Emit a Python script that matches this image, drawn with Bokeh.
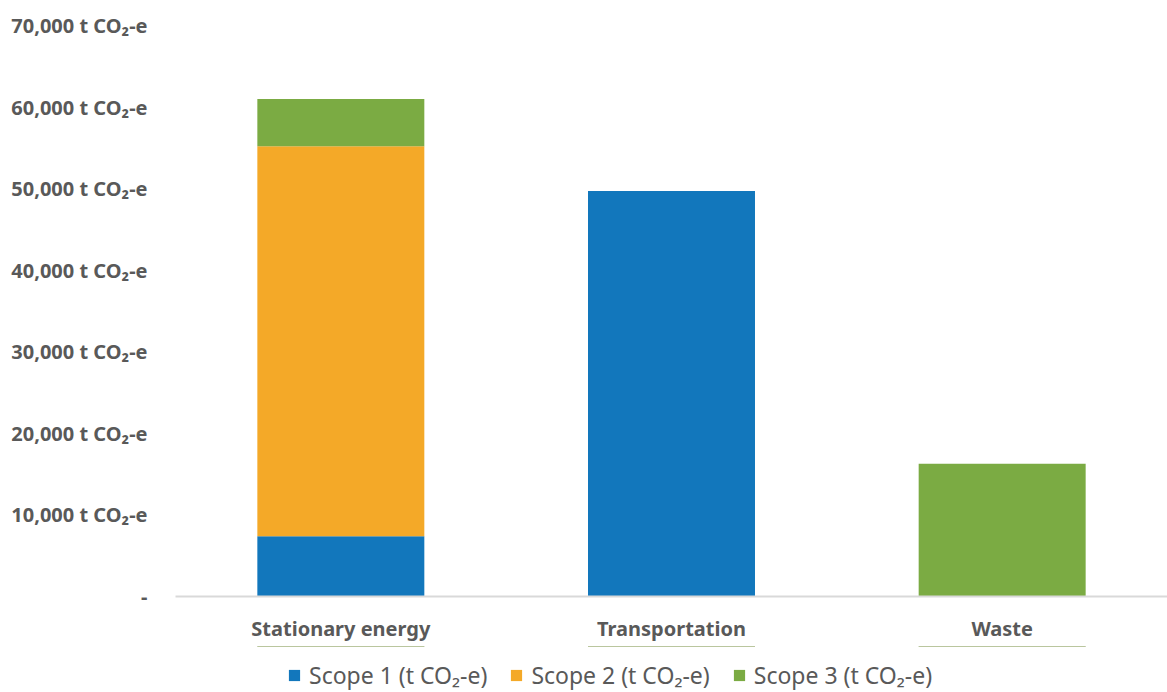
from bokeh.plotting import figure
from bokeh.models import ColumnDataSource, FixedTicker, Legend, Range1d
from bokeh.layouts import column
from bokeh.embed import file_html
from bokeh.resources import INLINE

categories = ["Stationary energy", "Transportation", "Waste"]
scope1 = [7400, 49700, 0]
scope2 = [47800, 0, 0]
scope3 = [5800, 0, 16270]
series = ["scope1", "scope2", "scope3"]
series_labels = ["Scope 1 (t CO\u2082-e)", "Scope 2 (t CO\u2082-e)", "Scope 3 (t CO\u2082-e)"]
colors = ["#1277BC", "#F4A928", "#7BAB43"]
y_ticks = [0, 10000, 20000, 30000, 40000, 50000, 60000, 70000]
y_tick_labels = ["-", "10,000 t CO\u2082-e", "20,000 t CO\u2082-e", "30,000 t CO\u2082-e",
                 "40,000 t CO\u2082-e", "50,000 t CO\u2082-e", "60,000 t CO\u2082-e", "70,000 t CO\u2082-e"]

source = ColumnDataSource(dict(cat=categories, scope1=scope1, scope2=scope2, scope3=scope3))

FONT = "Noto Sans"
GRAY = "#595959"

p = figure(x_range=categories, y_range=Range1d(0, 70000),
           frame_width=992, frame_height=571,
           output_backend="svg", toolbar_location=None,
           min_border_left=175, min_border_right=0, min_border_top=25, min_border_bottom=50)

renderers = p.vbar_stack(series, x="cat", width=0.505, source=source, color=colors,
                         line_color=None)

p.outline_line_color = None
p.xgrid.grid_line_color = None
p.ygrid.grid_line_color = None

p.yaxis.ticker = FixedTicker(ticks=y_ticks)
p.yaxis.major_label_overrides = {t: l for t, l in zip(y_ticks, y_tick_labels)}
p.yaxis.axis_line_color = None
p.yaxis.major_tick_line_color = None
p.yaxis.minor_tick_line_color = None
p.yaxis.major_label_text_font = FONT
p.yaxis.major_label_text_font_size = "20px"
p.yaxis.major_label_text_font_style = "bold"
p.yaxis.major_label_text_color = GRAY
p.yaxis.major_label_standoff = 22

p.xaxis.axis_line_color = "#D9D9D9"
p.xaxis.axis_line_width = 2
p.xaxis.major_tick_line_color = None
p.xaxis.minor_tick_line_color = None
p.xaxis.major_label_text_font = FONT
p.xaxis.major_label_text_font_size = "20px"
p.xaxis.major_label_text_font_style = "bold"
p.xaxis.major_label_text_color = GRAY
p.xaxis.major_label_standoff = 12

# legend strip below the chart (same stacked bars, kept out of its visible range)
q = figure(width=1167, height=46, output_backend="svg", toolbar_location=None,
           min_border=0, x_range=categories, y_range=Range1d(-2e6, -1e6))
q.axis.visible = False
q.grid.visible = False
q.outline_line_color = None
leg_renderers = q.vbar_stack(series, x="cat", width=0.505, source=source, color=colors,
                             line_color=None)

legend = Legend(items=[(lbl, [r]) for lbl, r in zip(series_labels, leg_renderers)],
                orientation="horizontal", location=(112, 1),
                label_text_font=FONT, label_text_font_size="23px",
                label_text_color=GRAY, glyph_width=14, glyph_height=14,
                label_standoff=8, spacing=22, border_line_color=None,
                background_fill_alpha=0, padding=0, margin=0)
q.add_layout(legend, "center")

layout = column(p, q, spacing=0)
open("out.html", "w").write(file_html(layout, INLINE))
